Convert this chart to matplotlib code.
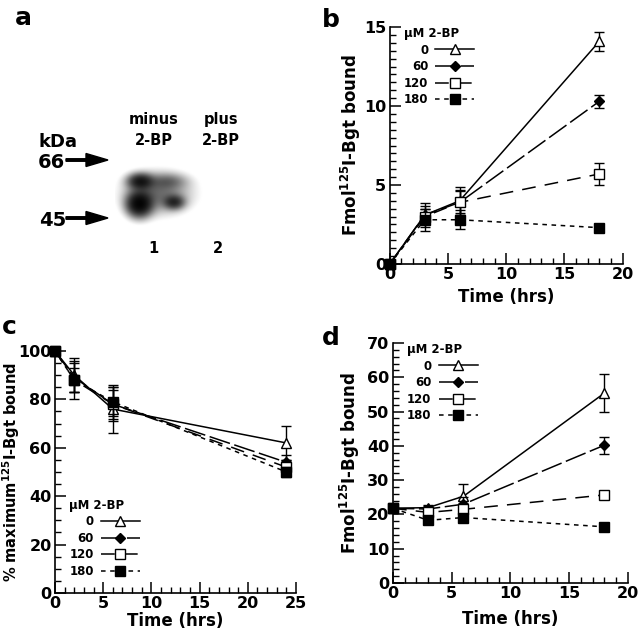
import numpy as np
import matplotlib
matplotlib.use('Agg')
import matplotlib.pyplot as plt
from matplotlib.ticker import MultipleLocator

plt.rcParams['font.family'] = ['DejaVu Sans']
plt.rcParams['font.weight'] = 'bold'
plt.rcParams['mathtext.fontset'] = 'dejavusans'
plt.rcParams['mathtext.default'] = 'bf'

conc_labels = ['0', '60', '120', '180']

# panel b: binding over time
time_b = [0, 3, 6, 18]
bound_b = [[0, 3.1, 4.0, 14.1],
           [0, 3.1, 3.9, 10.3],
           [0, 3.0, 3.9, 5.7],
           [0, 2.8, 2.8, 2.3]]
err_b = [[0, 0.75, 0.9, 0.6],
         [0, 0.6, 0.8, 0.4],
         [0, 0.5, 0.7, 0.7],
         [0, 0.7, 0.6, 0.15]]

# panel c: % of maximum bound
time_c = [0, 2, 6, 24]
bound_c = [[100, 90, 76, 62],
           [100, 89, 78, 54],
           [100, 88, 78, 52],
           [100, 88, 79, 50]]
err_c = [[0, 7, 10, 7],
         [0, 6, 7, 3],
         [0, 5, 6, 3],
         [0, 8, 6, 2]]

# panel d
time_d = [0, 3, 6, 18]
bound_d = [[21.8, 22.0, 25.3, 55.4],
           [21.8, 21.6, 23.0, 40.2],
           [21.8, 20.6, 21.5, 25.7],
           [21.8, 18.3, 19.1, 16.4]]
err_d = [[0, 0.8, 3.5, 5.5],
         [0, 0.8, 2.0, 2.5],
         [0, 0.8, 1.5, 1.0],
         [0, 0.6, 1.0, 0.8]]

styles = [dict(ls='-', marker='^', mfc='white', ms=7),
          dict(ls=(0, (14, 3)), marker='D', mfc='black', ms=5.5),
          dict(ls=(0, (9, 6)), marker='s', mfc='white', ms=6.5),
          dict(ls=(0, (3, 3)), marker='s', mfc='black', ms=7)]

fig = plt.figure(figsize=(6.4, 6.34), dpi=100)

# ---- panel a: blot drawn in pixel coordinates
ax_a = fig.add_axes([0, 0, 1, 1])
ax_a.set_xlim(0, 640)
ax_a.set_ylim(634, 0)
ax_a.axis('off')

blob_parts = [  # cx, cy, sx, sy, amplitude
    (140, 181, 8, 5, 0.8),
    (139, 204, 8, 8, 1.1),
    (174, 202, 6.5, 4.5, 0.6),
    (158, 193, 21, 13, 0.38),
    (168, 181, 12, 5, 0.25),
]
X, Y = np.meshgrid(np.arange(115, 205, 0.5), np.arange(160, 235, 0.5))
dens = np.zeros_like(X)
for cx, cy, sx, sy, amp in blob_parts:
    dens += amp * np.exp(-((X - cx) / sx) ** 2 / 2 - ((Y - cy) / sy) ** 2 / 2)
img = np.clip((1 - np.exp(-2.2 * dens)) * 1.15 - 0.1, 0, 1)
ax_a.imshow(img, cmap='gray_r', vmin=0, vmax=1, extent=(115, 205, 235, 160),
            interpolation='bilinear', aspect='auto', zorder=1)

ax_a.text(58, 147, 'kDa', fontsize=13, ha='center', va='baseline', fontweight='bold')
ax_a.text(51, 168, '66', fontsize=14, ha='center', va='baseline', fontweight='bold')
ax_a.text(53, 226, '45', fontsize=14, ha='center', va='baseline', fontweight='bold')
for yy in (160, 218):
    ax_a.arrow(66, yy, 42, 0, width=2.5, head_width=13, head_length=22,
               length_includes_head=True, color='k')
for txt, x, y in [('minus', 154, 124), ('2-BP', 154, 145), ('plus', 221, 124),
                  ('2-BP', 221, 145), ('1', 153, 253), ('2', 218, 253)]:
    ax_a.text(x, y, txt, fontsize=10.5, ha='center', va='baseline', fontweight='bold')


def draw_panel(ax, t, vals, errs, xmax, ymax, xmaj, ymaj, ymin, ylabel, leg_anchor,
               ylab_x, xlab_y, ylab_size=12):
    for v, e, st, lab in zip(vals, errs, styles, conc_labels):
        ax.errorbar(t, v, yerr=e, fmt='none', ecolor='k', elinewidth=1,
                    capsize=3.5, capthick=1, clip_on=False)
        ax.plot(t, v, color='k', lw=1.1, mec='k', mew=1, clip_on=False,
                label=lab, **st)
    ax.set_xlim(0, xmax)
    ax.set_ylim(0, ymax)
    ax.xaxis.set_major_locator(MultipleLocator(xmaj))
    ax.xaxis.set_minor_locator(MultipleLocator(1))
    ax.yaxis.set_major_locator(MultipleLocator(ymaj))
    ax.yaxis.set_minor_locator(MultipleLocator(ymin))
    ax.spines['top'].set_visible(False)
    ax.spines['right'].set_visible(False)
    for s in ('left', 'bottom'):
        ax.spines[s].set_linewidth(1.2)
    ax.tick_params(which='major', direction='in', length=8, width=1.1,
                   labelsize=11.5, pad=2.5)
    ax.tick_params(which='minor', direction='in', length=4, width=1)
    for lbl in ax.get_xticklabels() + ax.get_yticklabels():
        lbl.set_fontweight('bold')
    ax.set_xlabel('Time (hrs)', fontsize=12, fontweight='bold')
    ax.set_ylabel(ylabel, fontsize=ylab_size, fontweight='bold')
    ax.yaxis.set_label_coords(ylab_x, 0.5)
    ax.xaxis.set_label_coords(0.5, xlab_y)
    ax.patch.set_alpha(0)
    ax.legend(title='\u00b5M 2-BP', markerfirst=False, frameon=False,
              loc='upper left', bbox_to_anchor=leg_anchor,
              prop={'weight': 'bold', 'size': 8.5},
              title_fontproperties={'weight': 'bold', 'size': 8.5},
              alignment='left', handlelength=3.3, labelspacing=0.3,
              handletextpad=0.6, borderaxespad=0, borderpad=0)


ax_b = fig.add_axes([0.609, 0.5836, 0.364, 0.3738])
draw_panel(ax_b, time_b, bound_b, err_b, 20, 15, 5, 5, 0.5,
           r'Fmol$^{125}$I-Bgt bound', (0.06, 1.0), -0.116, -0.101)

ax_c = fig.add_axes([0.0859, 0.0647, 0.3766, 0.3817])
draw_panel(ax_c, time_c, bound_c, err_c, 25, 100, 5, 20, 5,
           r'% maximum$^{125}$I-Bgt bound', (0.06, 0.39), -0.138, -0.078,
           ylab_size=10.5)

ax_d = fig.add_axes([0.614, 0.0804, 0.367, 0.3785])
draw_panel(ax_d, time_d, bound_d, err_d, 20, 70, 5, 10, 2,
           r'Fmol$^{125}$I-Bgt bound', (0.06, 1.0), -0.13, -0.112)

for letter, x, y in [('a', 15, 25), ('b', 322, 27), ('c', 2, 334), ('d', 322, 345)]:
    fig.text(x / 640, 1 - y / 634, letter, fontsize=18, fontweight='bold',
             va='baseline', ha='left')

fig.savefig('out.png', dpi=100)
